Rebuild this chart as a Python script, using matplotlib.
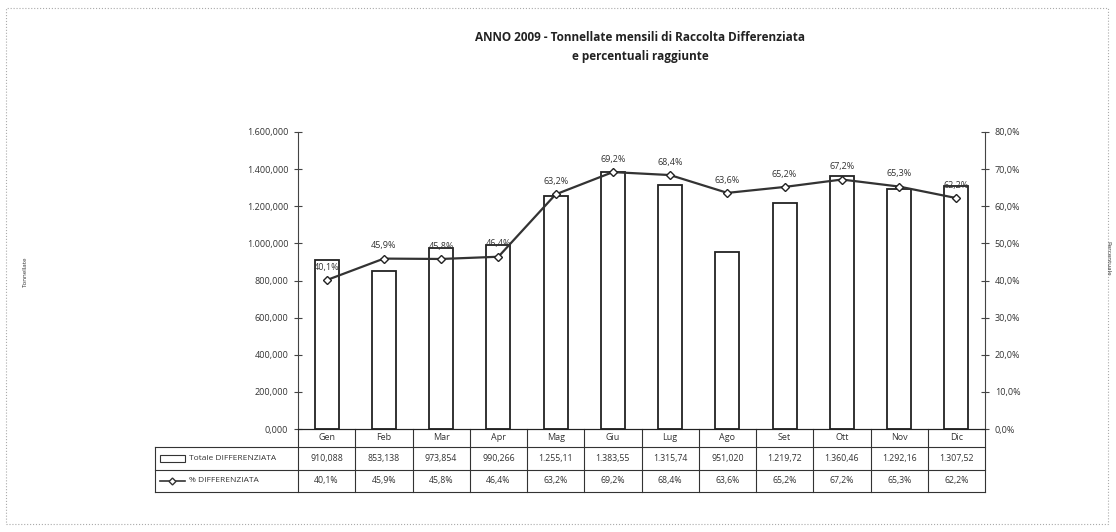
import matplotlib
matplotlib.use('Agg')
import matplotlib.pyplot as plt
from matplotlib.patches import Rectangle
from matplotlib.lines import Line2D
import matplotlib.transforms as mtransforms

months = ["Gen", "Feb", "Mar", "Apr", "Mag", "Giu", "Lug", "Ago", "Set", "Ott", "Nov", "Dic"]
totale = [910.088, 853.138, 973.854, 990.266, 1255.11, 1383.55, 1315.74, 951.020,
          1219.72, 1360.46, 1292.16, 1307.52]
totale_lbl = ["910,088", "853,138", "973,854", "990,266", "1.255,11", "1.383,55", "1.315,74",
              "951,020", "1.219,72", "1.360,46", "1.292,16", "1.307,52"]
perc = [40.1, 45.9, 45.8, 46.4, 63.2, 69.2, 68.4, 63.6, 65.2, 67.2, 65.3, 62.2]

title = "ANNO 2009 - Tonnellate mensili di Raccolta Differenziata\ne percentuali raggiunte"

plt.rcParams['font.family'] = ['Open Sans', 'DejaVu Sans']

def it_num(v, dec):
    s = "{:,.{}f}".format(v, dec)
    return s.replace(",", "X").replace(".", ",").replace("X", ".")

fig = plt.figure(figsize=(11.16, 5.32), dpi=100)
ax = fig.add_axes([298/1116, 1 - 429/532, 687/1116, 297/532])
ax2 = ax.twinx()

x = list(range(len(months)))
ax.bar(x, totale, width=0.42, facecolor='white', edgecolor='#222222', linewidth=1.3, zorder=2)
ax.set_xlim(-0.5, len(months) - 0.5)
ax.set_ylim(0, 1600)
ax.set_yticks(range(0, 1601, 200))
ax.set_yticklabels([it_num(v, 3) for v in range(0, 1601, 200)], fontsize=6.5, color='#333333')
ax.set_xticks([])

ax2.plot(x, perc, color='#333333', linewidth=1.6, marker='D', markersize=4,
         markerfacecolor='white', markeredgecolor='#222222', zorder=3)
ax2.set_ylim(0, 80)
ax2.set_yticks(range(0, 81, 10))
ax2.set_yticklabels([it_num(v, 1) + "%" for v in range(0, 81, 10)], fontsize=6.5, color='#333333')
for xi, p in zip(x, perc):
    ax2.annotate(it_num(p, 1) + "%", (xi, p), xytext=(0, 6), textcoords='offset points',
                 ha='center', va='bottom', fontsize=6.5, color='#333333')

for a in (ax, ax2):
    for s in ('top',):
        a.spines[s].set_visible(False)
    a.spines['left'].set_color('#444444')
    a.spines['right'].set_color('#444444')
    a.spines['bottom'].set_color('#222222')
    a.tick_params(axis='y', direction='inout', length=6, color='#444444', pad=4)
ax.spines['right'].set_visible(False)
ax2.spines['left'].set_visible(False)

# data table under the chart
trans = mtransforms.blended_transform_factory(ax.transData, ax.transAxes)
rows_y = [0.0, -(447 - 429) / 297, -(470 - 429) / 297, -(492 - 429) / 297]
lab_left = -0.5 - (298 - 155) / 687 * 12

for i in range(len(months) + 1):
    ax.add_line(Line2D([i - 0.5, i - 0.5], [rows_y[0], rows_y[3]], transform=trans,
                       color='#333333', linewidth=0.8, clip_on=False))
for yy in rows_y[1:]:
    ax.add_line(Line2D([lab_left, len(months) - 0.5], [yy, yy], transform=trans,
                       color='#333333', linewidth=0.8, clip_on=False))
ax.add_line(Line2D([lab_left, lab_left], [rows_y[1], rows_y[3]], transform=trans,
                   color='#333333', linewidth=0.8, clip_on=False))

for i, m in enumerate(months):
    ax.text(i, (rows_y[0] + rows_y[1]) / 2, m, transform=trans, ha='center', va='center',
            fontsize=6.5, color='#333333')
    ax.text(i, (rows_y[1] + rows_y[2]) / 2, totale_lbl[i], transform=trans, ha='center',
            va='center', fontsize=6.3, color='#333333')
    ax.text(i, (rows_y[2] + rows_y[3]) / 2, it_num(perc[i], 1) + "%", transform=trans,
            ha='center', va='center', fontsize=6.3, color='#333333')

# legend keys in the label column
ym1 = (rows_y[1] + rows_y[2]) / 2
ym2 = (rows_y[2] + rows_y[3]) / 2
ax.add_patch(Rectangle((lab_left + 0.08, ym1 - 0.012), 0.45, 0.024, transform=trans,
                       facecolor='white', edgecolor='#333333', linewidth=0.8, clip_on=False))
ax.text(lab_left + 0.6, ym1, "Totale DIFFERENZIATA", transform=trans, ha='left', va='center',
        fontsize=6, color='#333333')
ax.add_line(Line2D([lab_left + 0.08, lab_left + 0.53], [ym2, ym2], transform=trans,
                   color='#333333', linewidth=1.2, clip_on=False))
ax.add_line(Line2D([lab_left + 0.305], [ym2], transform=trans, marker='D', markersize=3.5,
                   markerfacecolor='white', markeredgecolor='#333333', clip_on=False))
ax.text(lab_left + 0.6, ym2, "% DIFFERENZIATA", transform=trans, ha='left', va='center',
        fontsize=6, color='#333333')

fig.text(640 / 1116, 1 - 47 / 532, title, ha='center', va='center', fontsize=8.5,
         fontweight='bold', color='#222222', linespacing=1.6)
fig.text(25 / 1116, 1 - 272 / 532, "Tonnellate", rotation=90, ha='center', va='center',
         fontsize=4.5, color='#333333')
fig.text(1108 / 1116, 1 - 258 / 532, "Percentuale", rotation=270, ha='center', va='center',
         fontsize=4.5, color='#333333')

fig.patches.append(Rectangle((6 / 1116, 8 / 532), 1102 / 1116, 516 / 532, transform=fig.transFigure,
                             fill=False, edgecolor='#aaaaaa', linewidth=0.8, linestyle=':'))

fig.savefig('out.png', dpi=100, facecolor='white')
